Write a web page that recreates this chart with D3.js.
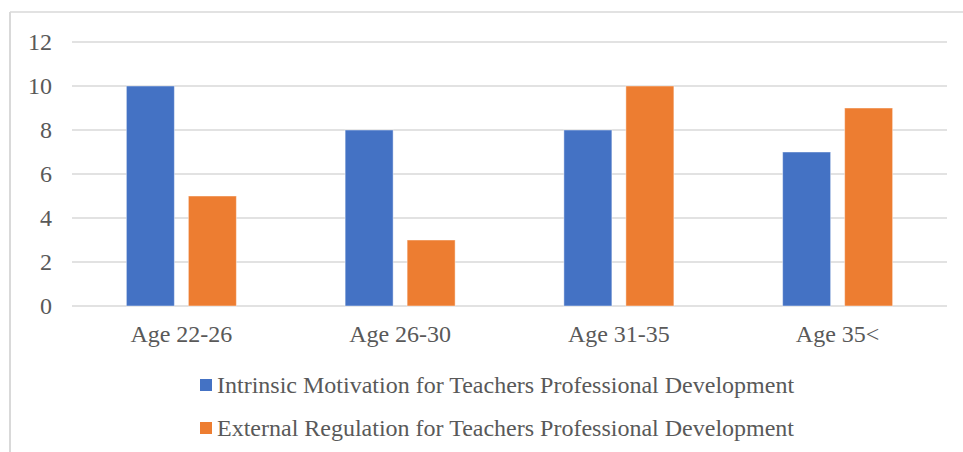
<!DOCTYPE html>
<html>
<head>
<meta charset="utf-8">
<script src="https://cdn.jsdelivr.net/npm/d3@7"></script>
<style>
  body { margin: 0; background: #fff; }
  text { font-family: "Liberation Serif", "Times New Roman", serif; fill: #595959; }
</style>
</head>
<body>
<svg width="963" height="452"></svg>
<script>
"use strict";

const categories = ["Age 22-26", "Age 26-30", "Age 31-35", "Age 35<"];
const seriesNames = [
  "Intrinsic Motivation for Teachers Professional Development",
  "External Regulation for Teachers Professional Development"
];
const intrinsic = [10, 8, 8, 7];
const external = [5, 3, 10, 9];
const yTicks = [0, 2, 4, 6, 8, 10, 12];
const colors = ["#4472C4", "#ED7D31"];

const svg = d3.select("svg");

// chart frame (only top and left edges are visible in the crop)
svg.append("line").attr("x1", 10).attr("x2", 963).attr("y1", 12).attr("y2", 12)
  .attr("stroke", "#d9d9d9").attr("stroke-width", 1.5);
svg.append("line").attr("x1", 10).attr("x2", 10).attr("y1", 12).attr("y2", 452)
  .attr("stroke", "#d9d9d9").attr("stroke-width", 2);

const x0 = d3.scaleBand().domain(categories).range([72, 947]);
const yScale = d3.scaleLinear().domain([0, 12]).range([306, 42]);

// gridlines
svg.append("g")
  .selectAll("line")
  .data(yTicks)
  .join("line")
  .attr("x1", 72).attr("x2", 947)
  .attr("y1", d => yScale(d)).attr("y2", d => yScale(d))
  .attr("stroke", "#d9d9d9").attr("stroke-width", 1.5);

// y tick labels
svg.append("g")
  .selectAll("text")
  .data(yTicks)
  .join("text")
  .attr("x", 52)
  .attr("y", d => yScale(d) + 8)
  .attr("text-anchor", "end")
  .style("font-size", "24px")
  .text(d => d);

// bars
const barW = 48, gap = 14;
const rows = categories.map((c, i) => ({ c, vals: [intrinsic[i], external[i]] }));
const groups = svg.append("g")
  .selectAll("g")
  .data(rows)
  .join("g")
  .attr("transform", d => `translate(${x0(d.c) + x0.bandwidth() / 2}, 0)`);

groups.selectAll("rect")
  .data(d => d.vals)
  .join("rect")
  .attr("x", (d, j) => j === 0 ? -barW - gap / 2 : gap / 2)
  .attr("width", barW)
  .attr("y", d => yScale(d))
  .attr("height", d => yScale(0) - yScale(d))
  .attr("fill", (d, j) => colors[j])
  .attr("stroke", "rgba(255,255,255,0.45)")
  .attr("stroke-width", 1);

// x labels
svg.append("g")
  .selectAll("text")
  .data(categories)
  .join("text")
  .attr("x", d => x0(d) + x0.bandwidth() / 2)
  .attr("y", 342)
  .attr("text-anchor", "middle")
  .style("font-size", "24px")
  .text(d => d);

// legend
const legend = svg.append("g")
  .selectAll("g")
  .data(seriesNames)
  .join("g")
  .attr("transform", (d, i) => `translate(200, ${379 + i * 43})`);
legend.append("rect").attr("width", 12).attr("height", 12)
  .attr("fill", (d, i) => colors[i]);
legend.append("text").attr("x", 17).attr("y", 14)
  .style("font-size", "24px")
  .text(d => d);
</script>
</body>
</html>
